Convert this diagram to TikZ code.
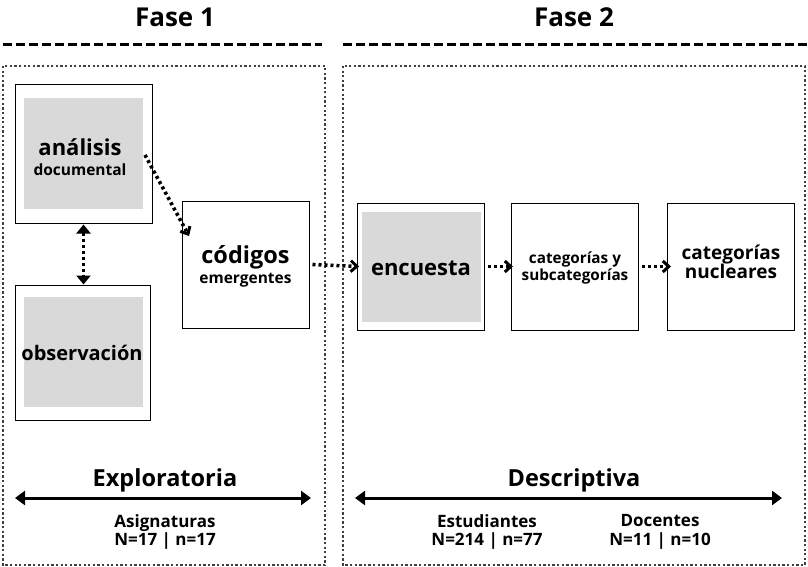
\documentclass[tikz,border=0pt]{standalone}
\usepackage{fontspec}
\setmainfont{Open Sans}
\usetikzlibrary{arrows.meta}

\begin{document}
\begin{tikzpicture}[x=1pt,y=-1pt,line cap=butt,
    phase/.style={font=\fontsize{26}{28}\selectfont\bfseries},
    stage/.style={font=\fontsize{23.5}{25}\selectfont\bfseries},
    sample/.style={font=\fontsize{17}{18.5}\selectfont\bfseries,align=center},
    box/.style={draw,line width=1pt,minimum width=127pt,minimum height=127pt,inner sep=0pt},
    graybox/.style={fill=black!15,minimum width=119pt,minimum height=110pt,inner sep=0pt},
    frame/.style={line width=2.8pt,dash pattern=on 2.3pt off 2.3pt,black!75},
    rule/.style={line width=3pt,dash pattern=on 9pt off 4pt},
    flow/.style={line width=3.6pt,dash pattern=on 3pt off 3pt,-{Straight Barb[length=6pt,width=11pt,line width=3pt]}},
    both/.style={line width=3.6pt,dash pattern=on 3pt off 3pt,{Triangle[length=9pt,width=14pt]}-{Triangle[length=9pt,width=14pt]}},
    span/.style={line width=3pt,{Triangle[length=10pt,width=14pt]}-{Triangle[length=10pt,width=14pt]}}]
    \useasboundingbox (0,0) rectangle (808,567);
    % phases
    \node[phase] (fase1) at (175,17) {Fase 1};
    \node[phase] (fase2) at (574,17) {Fase 2};
    \draw[rule] (3,45) -- (322,45);
    \draw[rule] (343,45) -- (808,45);
    \draw[frame] (3,66) rectangle (325,565);
    \draw[frame] (343,66) rectangle (805,565);
    % fase 1 boxes
    \node[box] (analisis) at (83.5,154) [minimum width=137pt,minimum height=138pt] {};
    \node[graybox] (analisisg) at (83.5,153.5) {};
    \node[font=\fontsize{22}{24}\selectfont\bfseries] at (80,147) {análisis};
    \node[font=\fontsize{15.5}{17}\selectfont\bfseries] at (80,170) {documental};
    \node[box] (observacion) at (82.5,352.5) [minimum width=135pt,minimum height=135pt] {};
    \node[graybox] at (83.5,352) {};
    \node[font=\fontsize{20}{22}\selectfont\bfseries] at (82,353) {observación};
    \node[box] (codigos) at (245.5,264.5) {};
    \node[font=\fontsize{23.5}{25}\selectfont\bfseries] at (245.5,257) {códigos};
    \node[font=\fontsize{15.5}{17}\selectfont\bfseries] at (245.5,280) {emergentes};
    % fase 2 boxes
    \node[box] (encuesta) at (421,266.5) {};
    \node[graybox] at (421,266.5) {};
    \node[font=\fontsize{22}{24}\selectfont\bfseries] at (421,268) {encuesta};
    \node[box] (subcat) at (575,266.5) {};
    \node[font=\fontsize{15.3}{17}\selectfont\bfseries,align=center] at (575,268) {categorías y\\subcategorías};
    \node[box] (nucleares) at (731,266.5) {};
    \node[font=\fontsize{19}{19}\selectfont\bfseries,align=center] at (731,262) {categorías\\nucleares};
    % connectors
    \coordinate (a1) at (145,155);
    \coordinate (a2) at (189,236);
    \draw[flow] (a1) -- (a2);
    \draw[both] (analisis.south) ++(0,1) coordinate (b1) -- (observacion.north -| b1);
    \draw[flow] (codigos.east) ++(3,0) -- ([xshift=2pt]encuesta.west);
    \draw[flow] (encuesta.east) ++(3,0) -- ([xshift=2pt]subcat.west);
    \draw[flow] (subcat.east) ++(3,0) -- ([xshift=4pt]nucleares.west);
    % bottom
    \node[stage] (explo) at (165,480) {Exploratoria};
    \coordinate (e1) at (15,498);
    \coordinate (e2) at (311,498);
    \draw[span] (e1) -- (e2);
    \node[sample] (asig) at (165,532) {Asignaturas\\N=17 | n=17};
    \node[stage] (desc) at (574,480) {Descriptiva};
    \coordinate (d1) at (355,498);
    \coordinate (d2) at (782,498);
    \draw[span] (d1) -- (d2);
    \node[sample] (estud) at (487,532) {Estudiantes\\N=214 | n=77};
    \node[sample] (doc) at (660,532) {Docentes\\N=11 | n=10};
\end{tikzpicture}
\end{document}
